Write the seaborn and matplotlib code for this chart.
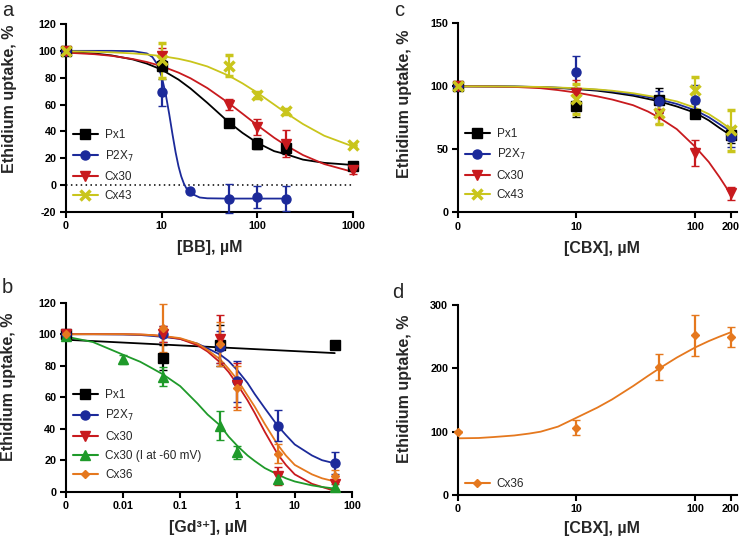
import numpy as np
import pandas as pd
import matplotlib
matplotlib.use("Agg")
import matplotlib.pyplot as plt
import seaborn as sns
from matplotlib.lines import Line2D
from matplotlib.ticker import NullLocator

sns.set_theme(style="ticks")
plt.rcParams["font.family"] = ["Liberation Sans", "DejaVu Sans"]
plt.rcParams["axes.unicode_minus"] = False

# ---------------- colours ----------------
C_PX1 = "#000000"
C_P2X7 = "#1c2a9a"
C_CX30 = "#c81a1e"
C_CX43 = "#c9c51c"
C_GREEN = "#1f9a2a"
C_CX36 = "#e5781e"

# ---------------- panel a : [BB] ----------------
a_x = [0, 10, 50, 100, 200, 1000]
a_px1 = [100, 89, 46, 31, 28, 14]
a_px1_err = [1, 4, 3, 4, 5, 3]
a_p2x7_x = [0, 10, 20, 50, 100, 200]
a_p2x7 = [100, 69, -4, -10, -9, -10]
a_p2x7_err = [1, 10, 1, 11, 8, 9]
a_cx30 = [100, 96, 60, 43, 31, 11]
a_cx30_err = [1, 6, 4, 6, 10, 3]
a_cx43 = [100, 93, 89, 67, 55, 30]
a_cx43_err = [1, 13, 8, 2, 2, 1]

a_curve_x = [1, 2, 3, 5, 7, 10, 15, 20, 30, 50, 70, 100, 150, 200, 300, 500, 1000]
a_curve_px1 = [99.2, 98.0, 96.6, 93.6, 90.5, 86.0, 78.6, 72.0, 61.3, 47.0, 38.9, 31.5, 25.3, 23.0, 19.0, 16.6, 15.0]
a_curve_cx30 = [98.7, 97.5, 96.3, 93.9, 91.7, 88.6, 83.8, 79.6, 72.3, 61.2, 53.2, 44.6, 35.3, 29.5, 22.4, 15.7, 9.8]
a_curve_cx43 = [99.7, 99.3, 98.9, 98.1, 97.3, 96.1, 94.1, 92.1, 88.4, 81.6, 75.8, 68.8, 60.0, 53.7, 45.5, 36.8, 28.8]
a_curve_p2x7_x = [1, 3, 5, 7, 8, 9, 10, 11, 12, 13, 14, 15, 16, 17, 18, 20, 25, 30, 50, 100, 200]
a_curve_p2x7 = [100, 100, 99.8, 98.1, 95.4, 90.0, 80.9, 68.1, 52.8, 37.5, 24.3, 14.0, 6.6, 1.5, -2.0, -6.0, -9.2, -9.8, -10, -10, -10]

# ---------------- panel b : [Gd3+] ----------------
b_x = [0, 0.05, 0.5, 1, 5, 50]
b_px1_x = [0, 0.05, 0.5, 50]
b_px1 = [100, 85, 93, 93]
b_px1_err = [1, 8, 13, 1]
b_p2x7 = [100, 100, 92, 70, 42, 18]
b_p2x7_err = [1, 5, 10, 13, 10, 7]
b_cx30 = [100, 100, 97, 68, 10, 5]
b_cx30_err = [1, 5, 15, 14, 6, 3]
b_green_x = [0, 0.01, 0.05, 0.5, 1, 5, 50]
b_green = [99, 84, 73, 42, 25, 8, 3]
b_green_err = [1, 3, 6, 9, 4, 3, 2]
b_cx36 = [100, 104, 94, 66, 24, 10]
b_cx36_err = [1, 15, 14, 14, 6, 4]

b_curve_px1_x = [0.001, 50]
b_curve_px1 = [96.5, 88]
b_curve_x = [0.001, 0.003, 0.01, 0.02, 0.03, 0.05, 0.1, 0.2, 0.3, 0.5, 0.7, 1, 1.5, 2, 3, 5, 7, 10, 20, 30, 50]
b_curve_p2x7 = [100, 100, 99.8, 99.5, 99, 98.3, 97, 94, 91, 87, 83, 77, 69, 62, 53, 42, 36, 30, 23, 20, 18]
b_curve_cx30 = [100, 100, 100, 99.8, 99.5, 98.8, 97, 93, 89, 82, 76, 68, 58, 50, 38, 24, 17, 11, 5, 3, 0.5]
b_curve_green = [98.5, 95, 87, 82.5, 79, 74.5, 67, 56, 49, 42, 35, 29, 23, 19.5, 15, 11, 8.5, 6.5, 4, 3, 2]
b_curve_cx36 = [100, 100, 100, 99.8, 99.5, 98.9, 97.5, 94, 90, 84, 78, 71, 61, 54, 43, 30, 23, 17, 11, 8.5, 6.5]

# ---------------- panel c : [CBX] ----------------
c_x = [0, 10, 50, 100, 200]
c_px1 = [100, 84, 89, 78, 61]
c_px1_err = [1, 8, 10, 3, 6]
c_p2x7 = [100, 111, 88, 89, 60]
c_p2x7_err = [1, 13, 8, 12, 8]
c_cx30 = [100, 95, 78, 47, 15]
c_cx30_err = [1, 10, 8, 10, 5]
c_cx43 = [100, 90, 79, 97, 65]
c_cx43_err = [1, 12, 9, 10, 16]

c_curve_x = [1, 2, 3, 5, 7, 10, 15, 20, 30, 40, 50, 70, 100, 130, 160, 200]
c_curve_px1 = [100, 99.9, 99.8, 99.3, 98.7, 97.8, 96.5, 95, 92.5, 90, 88, 84, 79, 73, 67, 61]
c_curve_p2x7 = [100, 99.9, 99.8, 99.4, 98.9, 98.2, 97.2, 96, 93.5, 91.5, 89.5, 86, 81, 75.5, 70, 64]
c_curve_cx43 = [100, 99.9, 99.8, 99.5, 99, 98.5, 97.5, 96.5, 94.5, 92.5, 91, 88, 83, 78, 72.5, 66]
c_curve_cx30 = [100, 99.8, 99.5, 98.5, 97, 95, 92, 89.5, 85, 80, 75, 66, 52, 40, 28, 14]

# ---------------- panel d : [CBX], Cx36 ----------------
d_x = [0, 10, 50, 100, 200]
d_cx36 = [100, 106, 202, 252, 250]
d_cx36_err = [1, 12, 21, 33, 16]
d_curve_x = [1, 1.5, 2, 3, 4, 5, 7, 10, 15, 20, 30, 40, 50, 70, 100, 130, 160, 200]
d_curve_cx36 = [89.5, 90, 91.5, 94, 97, 100, 108, 122, 138, 151, 172, 188, 200, 217, 233, 243, 250, 257]

# ---------------- tick labels ----------------
a_xticks = [1, 10, 100, 1000]
a_xticklabels = ["0", "10", "100", "1000"]
a_yticks = [-20, 0, 20, 40, 60, 80, 100, 120]
b_xticks = [0.001, 0.01, 0.1, 1, 10, 100]
b_xticklabels = ["0", "0.01", "0.1", "1", "10", "100"]
b_yticks = [0, 20, 40, 60, 80, 100, 120]
c_xticks = [1, 10, 100, 200]
c_xticklabels = ["0", "10", "100", "200"]
c_yticks = [0, 50, 100, 150]
d_yticks = [0, 100, 200, 300]

W, H = 745, 539
fig = plt.figure(figsize=(W / 100, H / 100), dpi=100)


def add_ax(left, right, top, bottom):
    return fig.add_axes([left / W, 1 - bottom / H, (right - left) / W, (bottom - top) / H])


axA = add_ax(66, 353, 24, 212)
axC = add_ax(457.7, 737, 23.3, 212.3)
axB = add_ax(65.7, 352, 302.7, 491.7)
axD = add_ax(457.7, 737, 305, 495)

LABEL_FS = 11.5


def series(ax, x, y, err, zero_pos, cx, cy, color, marker, ms, mew=1.0):
    xs = [zero_pos if v == 0 else v for v in x]
    df = pd.DataFrame({"conc": cx, "uptake": cy})
    sns.lineplot(data=df, x="conc", y="uptake", ax=ax, color=color, lw=1.3,
                 estimator=None, sort=False, legend=False)
    cont = ax.errorbar(xs, y, yerr=err, fmt=marker, color=color, ms=ms, mew=mew,
                       capsize=3, elinewidth=1.6, capthick=1.6, zorder=3)
    for art in cont.get_children():
        art.set_clip_on(False)
    cont.lines[0].set_clip_on(False)


def style(ax, xticks, xlabels, yticks, xlim, ylim):
    ax.set_xscale("log")
    ax.set_xlim(*xlim)
    ax.set_ylim(*ylim)
    ax.set_xticks(xticks)
    ax.set_xticklabels(xlabels)
    ax.xaxis.set_minor_locator(NullLocator())
    ax.set_yticks(yticks)
    sns.despine(ax=ax)
    for s in ("left", "bottom"):
        ax.spines[s].set_linewidth(1.5)
        ax.spines[s].set_color("black")
    ax.tick_params(axis="both", direction="out", length=4.3, width=1.5, colors="black",
                   labelsize=7.8, pad=2.5)
    for lab in ax.get_xticklabels() + ax.get_yticklabels():
        lab.set_fontweight("bold")


def labels(ax, xlabel, xpos, ylabel_pos):
    ax.set_xlabel(xlabel, fontsize=LABEL_FS, fontweight="bold", va="center")
    ax.xaxis.set_label_coords(*xpos)
    ax.set_ylabel("Ethidium uptake, %", fontsize=LABEL_FS, fontweight="bold", va="center")
    ax.yaxis.set_label_coords(*ylabel_pos)


def legend(ax, entries, anchor):
    handles = [Line2D([0], [0], color=c, marker=m, ms=ms, mew=mew, lw=1.5, label=l)
               for l, c, m, ms, mew in entries]
    ax.legend(handles=handles, loc="upper left", bbox_to_anchor=anchor, frameon=False,
              fontsize=8.5, handlelength=2.1, handletextpad=0.6, labelspacing=0.62,
              borderpad=0, borderaxespad=0)


# ---------- panel a ----------
ax = axA
ax.set_xscale("log")
ax.axhline(0, color="black", lw=1.1, ls=(0, (1, 2.2)), zorder=1)
series(ax, a_x, a_px1, a_px1_err, 1, a_curve_x, a_curve_px1, C_PX1, "s", 6.5)
series(ax, a_p2x7_x, a_p2x7, a_p2x7_err, 1, a_curve_p2x7_x, a_curve_p2x7, C_P2X7, "o", 6.5)
series(ax, a_x, a_cx30, a_cx30_err, 1, a_curve_x, a_curve_cx30, C_CX30, "v", 7)
series(ax, a_x, a_cx43, a_cx43_err, 1, a_curve_x, a_curve_cx43, C_CX43, "x", 7, 2.5)
style(ax, a_xticks, a_xticklabels, a_yticks, (1, 1000), (-20, 120))
labels(ax, "[BB], µM", (0.5, -0.19), (-0.198, 0.604))
legend(ax, [("Px1", C_PX1, "s", 6.5, 1), ("P2X$_7$", C_P2X7, "o", 6.5, 1),
            ("Cx30", C_CX30, "v", 7, 1), ("Cx43", C_CX43, "x", 7, 2.5)], (0.024, 0.441))

# ---------- panel b ----------
ax = axB
ax.set_xscale("log")
series(ax, b_px1_x, b_px1, b_px1_err, 0.001, b_curve_px1_x, b_curve_px1, C_PX1, "s", 6.5)
series(ax, b_x, b_p2x7, b_p2x7_err, 0.001, b_curve_x, b_curve_p2x7, C_P2X7, "o", 6.5)
series(ax, b_x, b_cx30, b_cx30_err, 0.001, b_curve_x, b_curve_cx30, C_CX30, "v", 7)
series(ax, b_green_x, b_green, b_green_err, 0.001, b_curve_x, b_curve_green, C_GREEN, "^", 7)
series(ax, b_x, b_cx36, b_cx36_err, 0.001, b_curve_x, b_curve_cx36, C_CX36, "D", 4.5)
style(ax, b_xticks, b_xticklabels, b_yticks, (0.001, 100), (0, 120))
labels(ax, "[Gd³⁺], µM", (0.497, -0.192), (-0.2, 0.554))
legend(ax, [("Px1", C_PX1, "s", 6.5, 1), ("P2X$_7$", C_P2X7, "o", 6.5, 1),
            ("Cx30", C_CX30, "v", 7, 1), ("Cx30 (I at -60 mV)", C_GREEN, "^", 7, 1),
            ("Cx36", C_CX36, "D", 4.5, 1)], (0.0255, 0.543))

# ---------- panel c ----------
ax = axC
ax.set_xscale("log")
series(ax, c_x, c_px1, c_px1_err, 1, c_curve_x, c_curve_px1, C_PX1, "s", 6.5)
series(ax, c_x, c_p2x7, c_p2x7_err, 1, c_curve_x, c_curve_p2x7, C_P2X7, "o", 6.5)
series(ax, c_x, c_cx30, c_cx30_err, 1, c_curve_x, c_curve_cx30, C_CX30, "v", 7)
series(ax, c_x, c_cx43, c_cx43_err, 1, c_curve_x, c_curve_cx43, C_CX43, "x", 7, 2.5)
style(ax, c_xticks, c_xticklabels, c_yticks, (1, 225), (0, 150))
labels(ax, "[CBX], µM", (0.517, -0.19), (-0.19, 0.573))
legend(ax, [("Px1", C_PX1, "s", 6.5, 1), ("P2X$_7$", C_P2X7, "o", 6.5, 1),
            ("Cx30", C_CX30, "v", 7, 1), ("Cx43", C_CX43, "x", 7, 2.5)], (0.026, 0.446))

# ---------- panel d ----------
ax = axD
ax.set_xscale("log")
series(ax, d_x, d_cx36, d_cx36_err, 1, d_curve_x, d_curve_cx36, C_CX36, "D", 4.5)
style(ax, c_xticks, c_xticklabels, d_yticks, (1, 225), (0, 300))
labels(ax, "[CBX], µM", (0.517, -0.174), (-0.19, 0.56))
legend(ax, [("Cx36", C_CX36, "D", 4.5, 1)], (0.026, 0.089))

# ---------- panel letters ----------
for letter, px, py in [("a", 2, 0.5), ("c", 394, 0.5), ("b", 2, 278), ("d", 392, 283)]:
    fig.text(px / W, 1 - py / H, letter, fontsize=14.5, va="top", ha="left")

fig.savefig("out.png", dpi=100)
